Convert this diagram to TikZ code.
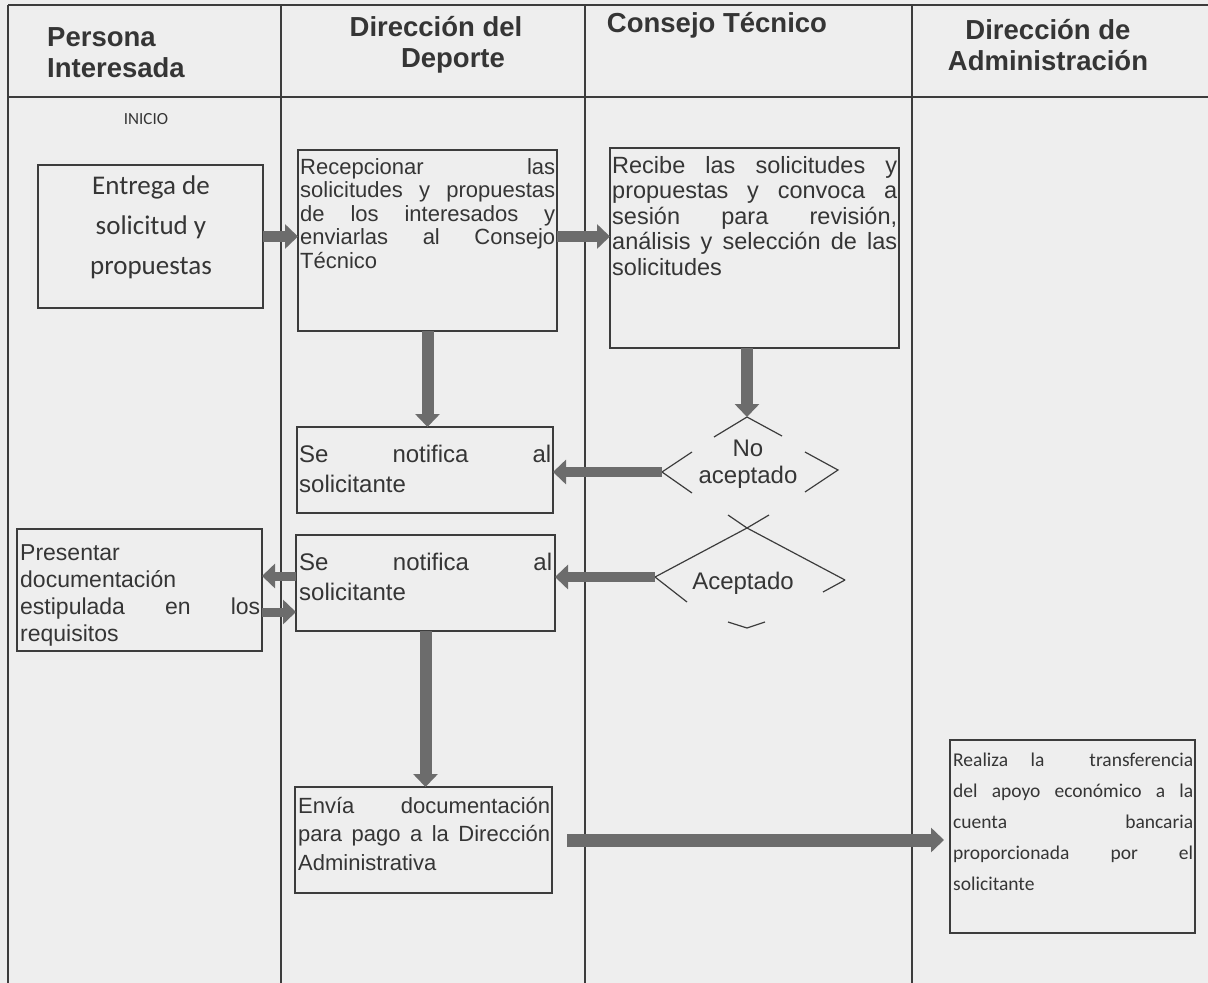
\documentclass[tikz,border=0pt]{standalone}
\usepackage{fontspec}
\setmainfont{Liberation Sans}
\newfontfamily\calibri{Carlito}
\usetikzlibrary{arrows.meta}
\definecolor{bg}{HTML}{EEEEEE}
\definecolor{ink}{HTML}{353535}
\definecolor{rule}{HTML}{3C3C3C}
\definecolor{arr}{HTML}{6C6C6C}
\newcommand\jl[2]{\makebox[#1pt][s]{#2}}
\begin{document}
\begin{tikzpicture}[x=1pt,y=-1pt,
  lane/.style={draw=rule, line width=1.4pt},
  box/.style={draw=rule, line width=1.3pt, anchor=north west, inner sep=0pt, outer sep=0pt},
  txt/.style={anchor=north west, inner sep=0pt, align=left, text=ink},
  hdr/.style={font=\fontsize{27.5}{31}\selectfont\bfseries, text=ink, inner sep=0pt},
  flow/.style={draw=arr, line width=#1, -{Triangle[length=13pt,width=24pt]}},
  flow/.default=10pt,
  dia/.style={draw=rule, line width=1.2pt}
]
\useasboundingbox[fill=bg] (0,0) rectangle (1208,983);
% lanes
\draw[lane] (8,5) -- (1208,5);
\draw[lane] (8,97) -- (1208,97);
\foreach \x in {8,281,585,912} \draw[lane] (\x,5) -- (\x,983);
% headers
\node[hdr, anchor=west, align=left] (h1) at (47,53) {Persona\\Interesada};
\node[hdr, align=center] (h2) at (436,45) {Dirección del\\\hspace*{34pt}Deporte};
\node[hdr] (h3) at (717,25) {Consejo Técnico};
\node[hdr, align=center] (h4) at (1048,45) {Dirección de\\Administración};
\node[font=\calibri\fontsize{17}{19}\selectfont, text=ink] (inicio) at (146,119) {INICIO};
% boxes
\node[box, minimum width=225pt, minimum height=143pt] (entrega) at (38,165) {};
\node[box, minimum width=259pt, minimum height=181pt] (recep) at (298,150) {};
\node[box, minimum width=289pt, minimum height=200pt] (recibe) at (610,148) {};
\node[box, minimum width=256pt, minimum height=86pt] (notif1) at (297,427) {};
\node[box, minimum width=245pt, minimum height=122pt] (present) at (17,529) {};
\node[box, minimum width=259pt, minimum height=96pt] (notif2) at (296,535) {};
\node[box, minimum width=257pt, minimum height=106pt] (envia) at (295,787) {};
\node[box, minimum width=245pt, minimum height=193pt] (realiza) at (950,740) {};
% texts
\node[font=\calibri\fontsize{27}{40}\selectfont, text=ink, align=center] (tentrega) at (151,227) {Entrega de\\solicitud y\\propuestas};
\node[txt, font=\fontsize{22}{23.6}\selectfont] (trecep) at (300,158) {\jl{255}{Recepcionar las}\\\jl{255}{solicitudes y propuestas}\\\jl{255}{de los interesados y}\\\jl{255}{enviarlas al Consejo}\\Técnico};
\node[txt, font=\fontsize{23.5}{25.5}\selectfont] (trecibe) at (612,156) {\jl{285}{Recibe las solicitudes y}\\\jl{285}{propuestas y convoca a}\\\jl{285}{sesión para revisión,}\\\jl{285}{análisis y selección de las}\\solicitudes};
\node[txt, font=\fontsize{24}{30}\selectfont] (tnotif1) at (299,445) {\jl{252}{Se notifica al}\\solicitante};
\node[txt, font=\fontsize{24}{30}\selectfont] (tnotif2) at (299,553) {\jl{253}{Se notifica al}\\solicitante};
\node[txt, font=\fontsize{23}{27}\selectfont] (tpresent) at (20,544) {Presentar\\documentación\\\jl{240}{estipulada en los}\\requisitos};
\node[txt, font=\fontsize{22}{28.5}\selectfont] (tenvia) at (298,797) {\jl{252}{Envía documentación}\\\jl{252}{para pago a la Dirección}\\Administrativa};
\node[txt, font=\calibri\fontsize{19.5}{31}\selectfont] (trealiza) at (953,753) {\jl{240}{Realiza la \ transferencia}\\\jl{240}{del apoyo económico a la}\\\jl{240}{cuenta bancaria}\\\jl{240}{proporcionada por el}\\solicitante};
% decisions
\coordinate (naT) at (747,417);
\coordinate (naL) at (662,472);
\coordinate (naR) at (838,470);
\coordinate (X) at (747,528);
\coordinate (acL) at (655,577);
\coordinate (acR) at (845,580);
\coordinate (acB) at (747,628);
\draw[dia] (714,437) -- (naT) -- (782,436);
\draw[dia] (692,452) -- (naL) -- (692,493);
\draw[dia] (805,452) -- (naR) -- (805,492);
\draw[dia] (728,515) -- (X) -- (acR);
\draw[dia] (769,515) -- (X) -- (acL);
\draw[dia] (acL) -- (687,602);
\draw[dia] (acR) -- (823,592);
\draw[dia] (728,622) -- (acB) -- (765,622);
\node[font=\fontsize{24}{27}\selectfont, align=center, text=ink] (noacep) at (748,464) {No\\aceptado};
\node[font=\fontsize{24}{27}\selectfont, text=ink] (acep) at (743,583) {Aceptado};
% connectors
\draw[flow=11pt] (entrega.east) -- (entrega.east -| recep.west);
\draw[flow=11pt] (recep.east |- entrega.east) -- (recibe.west |- entrega.east);
\draw[flow=12pt] (recep.south) -- (recep.south |- notif1.north);
\draw[flow=12pt] (naT |- recibe.south) -- (naT);
\draw[flow=10pt] (naL) -- (naL -| notif1.east);
\draw[flow=10pt] (acL) -- (acL -| notif2.east);
\coordinate (l1) at ([yshift=-41pt]notif2.north west);
\coordinate (l2) at ([yshift=-83pt]present.north east);
\draw[flow=9pt] (l1) -- (l1 -| present.east);
\draw[flow=9pt] (l2) -- (l2 -| notif2.west);
\draw[flow=12pt] (notif2.south) -- (notif2.south |- envia.north);
\coordinate (e1) at ([xshift=15pt]envia.east);
\draw[flow=13pt, shorten >=6pt] (e1) -- (e1 -| realiza.west);
\end{tikzpicture}
\end{document}
